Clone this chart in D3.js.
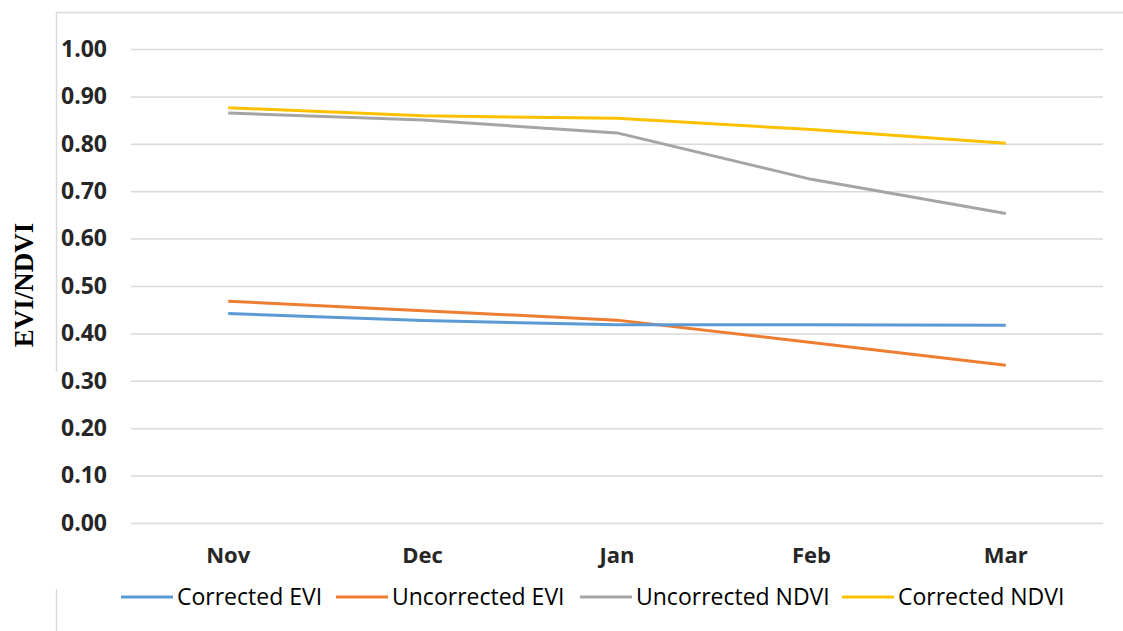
<!DOCTYPE html>
<html>
<head>
<meta charset="utf-8">
<script src="https://cdn.jsdelivr.net/npm/d3@7"></script>
<style>
  body { margin: 0; background: #fff; }
  svg { display: block; }
</style>
</head>
<body>
<svg id="chart"></svg>
<script>
var months = ['Nov', 'Dec', 'Jan', 'Feb', 'Mar'];
var correctedEVI = [0.442, 0.427, 0.418, 0.418, 0.417];
var uncorrectedEVI = [0.468, 0.448, 0.428, 0.381, 0.333];
var uncorrectedNDVI = [0.865, 0.850, 0.823, 0.725, 0.653];
var correctedNDVI = [0.876, 0.859, 0.854, 0.830, 0.801];
var yTicks = [0, 0.1, 0.2, 0.3, 0.4, 0.5, 0.6, 0.7, 0.8, 0.9, 1.0];

var series = [
    { name: 'Corrected EVI', values: correctedEVI, color: '#5B9BD5' },
    { name: 'Uncorrected EVI', values: uncorrectedEVI, color: '#ED7D31' },
    { name: 'Uncorrected NDVI', values: uncorrectedNDVI, color: '#A5A5A5' },
    { name: 'Corrected NDVI', values: correctedNDVI, color: '#FFC000' }
];
var drawOrder = [series[3], series[2], series[1], series[0]];

var width = 1123;
var height = 631;
var plotLeft = 131, plotRight = 1103, plotTop = 49, plotBottom = 523;

var svg = d3.select('#chart')
    .attr('width', width)
    .attr('height', height);

var xScale = d3.scaleBand()
    .domain(months)
    .range([plotLeft, plotRight]);

var yScale = d3.scaleLinear()
    .domain([0, 1])
    .range([plotBottom, plotTop]);

// outer frame bits
svg.append('line')
    .attr('x1', 56).attr('x2', width)
    .attr('y1', 12.5).attr('y2', 12.5)
    .attr('stroke', '#d9d9d9').attr('stroke-width', 1.5);
svg.append('line')
    .attr('x1', 56.5).attr('x2', 56.5)
    .attr('y1', 12).attr('y2', 372)
    .attr('stroke', '#d9d9d9').attr('stroke-width', 1.5);
svg.append('line')
    .attr('x1', 56.5).attr('x2', 56.5)
    .attr('y1', 589).attr('y2', height)
    .attr('stroke', '#d9d9d9').attr('stroke-width', 1.5);

// gridlines + y labels
var yAxis = d3.axisLeft(yScale)
    .tickValues(yTicks)
    .tickSize(-(plotRight - plotLeft))
    .tickPadding(24)
    .tickFormat(d3.format('.2f'));

var gy = svg.append('g')
    .attr('transform', 'translate(' + plotLeft + ',0)')
    .call(yAxis);
gy.select('.domain').remove();
gy.selectAll('.tick line')
    .attr('stroke', '#d9d9d9')
    .attr('stroke-width', 1.5);
gy.selectAll('.tick text')
    .attr('font-family', '"Open Sans", sans-serif')
    .attr('font-weight', 'bold')
    .attr('font-size', '23px')
    .attr('fill', '#262626');

// x labels
var xAxis = d3.axisBottom(xScale)
    .tickSize(0)
    .tickPadding(24);
var gx = svg.append('g')
    .attr('transform', 'translate(0,' + plotBottom + ')')
    .call(xAxis);
gx.select('.domain').remove();
gx.selectAll('.tick text')
    .attr('font-family', '"Open Sans", sans-serif')
    .attr('font-weight', 'bold')
    .attr('font-size', '22px')
    .attr('fill', '#262626');

// y axis title
svg.append('text')
    .attr('transform', 'translate(33,285) rotate(-90)')
    .attr('text-anchor', 'middle')
    .attr('font-family', '"Liberation Serif", "Times New Roman", serif')
    .attr('font-weight', 'bold')
    .attr('font-size', '27px')
    .attr('fill', '#000')
    .text('EVI/NDVI');

var line = d3.line()
    .x(function(d, i) { return xScale(months[i]) + xScale.bandwidth() / 2; })
    .y(function(d) { return yScale(d); });

svg.selectAll('.series')
    .data(drawOrder)
    .enter()
    .append('path')
    .classed('series', true)
    .attr('d', function(d) { return line(d.values); })
    .attr('fill', 'none')
    .attr('stroke', function(d) { return d.color; })
    .attr('stroke-width', 3)
    .attr('stroke-linejoin', 'round');

// legend
var legendX = [121, 336, 580, 842];
var legend = svg.selectAll('.legend')
    .data(series)
    .enter()
    .append('g')
    .classed('legend', true)
    .attr('transform', function(d, i) { return 'translate(' + legendX[i] + ',597)'; });

legend.append('line')
    .attr('x1', 0).attr('x2', 52)
    .attr('y1', 0).attr('y2', 0)
    .attr('stroke', function(d) { return d.color; })
    .attr('stroke-width', 3);

legend.append('text')
    .attr('x', 56)
    .attr('y', 0)
    .attr('dy', '0.36em')
    .attr('font-family', '"Open Sans", sans-serif')
    .attr('font-size', '23px')
    .attr('fill', '#000')
    .text(function(d) { return d.name; });
</script>
</body>
</html>
